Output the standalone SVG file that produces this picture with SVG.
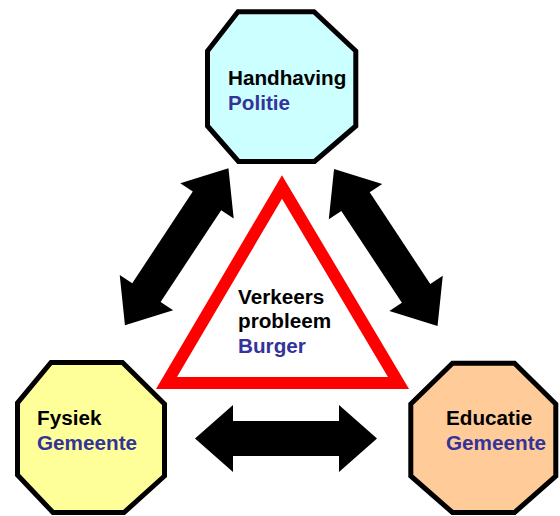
<svg xmlns="http://www.w3.org/2000/svg" xmlns:xlink="http://www.w3.org/1999/xlink" width="560" height="516" viewBox="0 0 560 516">
  <style>
    .oct { stroke: #000000; stroke-width: 5; stroke-linejoin: miter; }
    .lbl { font-family: "Liberation Sans", Arial, sans-serif; font-weight: bold; font-size: 20.7px; fill: #000000; }
    .sub { fill: #333399; }
    .arrow { fill: #000000; }
  </style>
  <defs>
    <!-- double-headed block arrow, centred on the origin along the x axis -->
    <path id="dblArrow" d="M -94 0 L -55 -32 L -55 -17 L 55 -17 L 55 -32 L 94 0 L 55 32 L 55 17 L -55 17 L -55 32 Z"/>
  </defs>
  <rect width="560" height="516" fill="#ffffff"/>

  <!-- connectors -->
  <g id="connectors" class="arrow">
    <use xlink:href="#dblArrow" transform="translate(176.7 246.7) rotate(-56.6)"/>
    <use xlink:href="#dblArrow" transform="translate(385.8 247.5) rotate(56.6)"/>
    <path d="M195 438.5 L233 405 L233 421 L339 421 L339 405 L377 438.5 L339 472 L339 456 L233 456 L233 472 Z"/>
  </g>

  <!-- central problem -->
  <g id="verkeersprobleem">
    <polygon points="282,187 398.5,383 166.5,383" fill="#ffffff" stroke="#ff0000" stroke-width="12" stroke-linejoin="miter"/>
    <text class="lbl" x="238" y="304">Verkeers</text>
    <text class="lbl" x="238" y="328">probleem</text>
    <text class="lbl sub" x="238" y="352.5">Burger</text>
  </g>

  <!-- enforcement -->
  <g id="handhaving">
    <polygon class="oct" fill="#ccffff" points="238,11.8 314,11.8 355.8,51 355.8,126 314.5,161.5 238.5,161.5 207.5,126 207.5,51"/>
    <text class="lbl" x="228" y="85">Handhaving</text>
    <text class="lbl sub" x="228" y="110">Politie</text>
  </g>

  <!-- physical measures -->
  <g id="fysiek">
    <polygon class="oct" fill="#ffff99" points="51,362.5 122.5,362.5 164.5,404 164.5,476 124,512.5 53,512.5 17.5,475 17.5,403"/>
    <text class="lbl" x="37" y="425">Fysiek</text>
    <text class="lbl sub" x="37" y="449.5">Gemeente</text>
  </g>

  <!-- education -->
  <g id="educatie">
    <polygon class="oct" fill="#ffcc99" points="452.5,363.2 514.5,363.2 555.8,404 555.8,476 514.5,512.5 452.5,512.5 410.8,476 410.8,404"/>
    <text class="lbl" x="446" y="425">Educatie</text>
    <text class="lbl sub" x="446" y="449.5">Gemeente</text>
  </g>
</svg>
